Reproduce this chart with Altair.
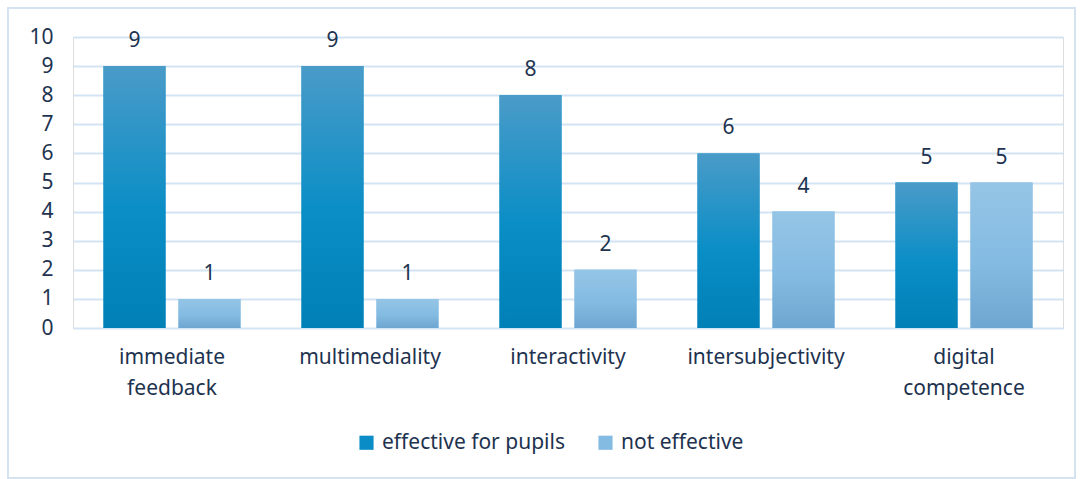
import altair as alt
import pandas as pd

categories = ["immediate feedback", "multimediality", "interactivity", "intersubjectivity", "digital competence"]
effective = [9, 9, 8, 6, 5]
not_effective = [1, 1, 2, 4, 5]
series = ["effective for pupils", "not effective"]
y_ticks = [0, 1, 2, 3, 4, 5, 6, 7, 8, 9, 10]

rows = []
for c, a, b in zip(categories, effective, not_effective):
    rows.append({"category": c, "series": series[0], "value": a})
    rows.append({"category": c, "series": series[1], "value": b})
df = pd.DataFrame(rows)

FONT = "Noto Sans"
TXT = "#1E3350"
FS = 21

def grad(top, mid, bot):
    return alt.Gradient(
        gradient="linear",
        stops=[alt.GradientStop(color=top, offset=0),
               alt.GradientStop(color=mid, offset=0.55),
               alt.GradientStop(color=bot, offset=1)],
        x1=0, x2=0, y1=0, y2=1,
    )

x_enc = alt.X("category:N", sort=categories,
              scale=alt.Scale(paddingInner=0.308, paddingOuter=0.154),
              axis=alt.Axis(title=None, labelAngle=0, labelExpr="split(datum.label, ' ')",
                            labelFontSize=FS, labelColor=TXT, labelFont=FONT,
                            labelPadding=29, labelLineHeight=31, ticks=False, domain=False,
                            labelBaseline="middle"))
xo = alt.XOffset("series:N", sort=series, scale=alt.Scale(paddingInner=0.173, paddingOuter=0))
y_enc = alt.Y("value:Q", scale=alt.Scale(domain=[0, 10]),
              axis=alt.Axis(title=None, values=y_ticks, labelOverlap=False,
                            labelFontSize=FS, labelColor=TXT, labelFont=FONT,
                            labelPadding=20, ticks=False, domain=False,
                            gridColor="#D3E3F3", gridWidth=2))

base = alt.Chart(df)

legend_layer = base.mark_bar(opacity=1).encode(
    x=x_enc, xOffset=xo, y=y_enc,
    color=alt.Color("series:N", sort=series,
                    scale=alt.Scale(domain=series, range=["#0A8DC6", "#84BBE2"]),
                    legend=alt.Legend(title=None, orient="none", direction="horizontal",
                                      legendX=283, legendY=395, symbolType="square",
                                      symbolSize=200, symbolStrokeWidth=0,
                                      labelFontSize=FS, labelColor=TXT, labelFont=FONT,
                                      labelLimit=400, labelOffset=5, columnPadding=30)),
)

bars_a = base.transform_filter(alt.datum.series == series[0]).mark_bar(
    color=grad("#4A9BC8", "#0A8EC6", "#0080B6")
).encode(x=x_enc, xOffset=xo, y=y_enc)
bars_b = base.transform_filter(alt.datum.series == series[1]).mark_bar(
    color=grad("#95C5E6", "#84BBE2", "#6DA6D0")
).encode(x=x_enc, xOffset=xo, y=y_enc)

labels = base.mark_text(baseline="middle", dy=-25, fontSize=FS, color=TXT, font=FONT).encode(
    x=x_enc, xOffset=xo, y=y_enc, text="value:Q")

border = alt.Chart(pd.DataFrame({"k": [0]})).mark_rect(
    fill=None, stroke="#D5E3F1", strokeWidth=2
).encode(x=alt.value(-65), x2=alt.value(1002), y=alt.value(-29), y2=alt.value(441))

chart = alt.layer(legend_layer, bars_a, bars_b, labels, border).properties(
    width=990, height=291,
    autosize=alt.AutoSizeParams(type="none"),
    padding={"left": 73, "top": 37, "right": 20, "bottom": 151},
).configure_view(stroke=None).configure(background="white")

chart.save("out.html", embed_options={"renderer": "svg", "actions": False})
